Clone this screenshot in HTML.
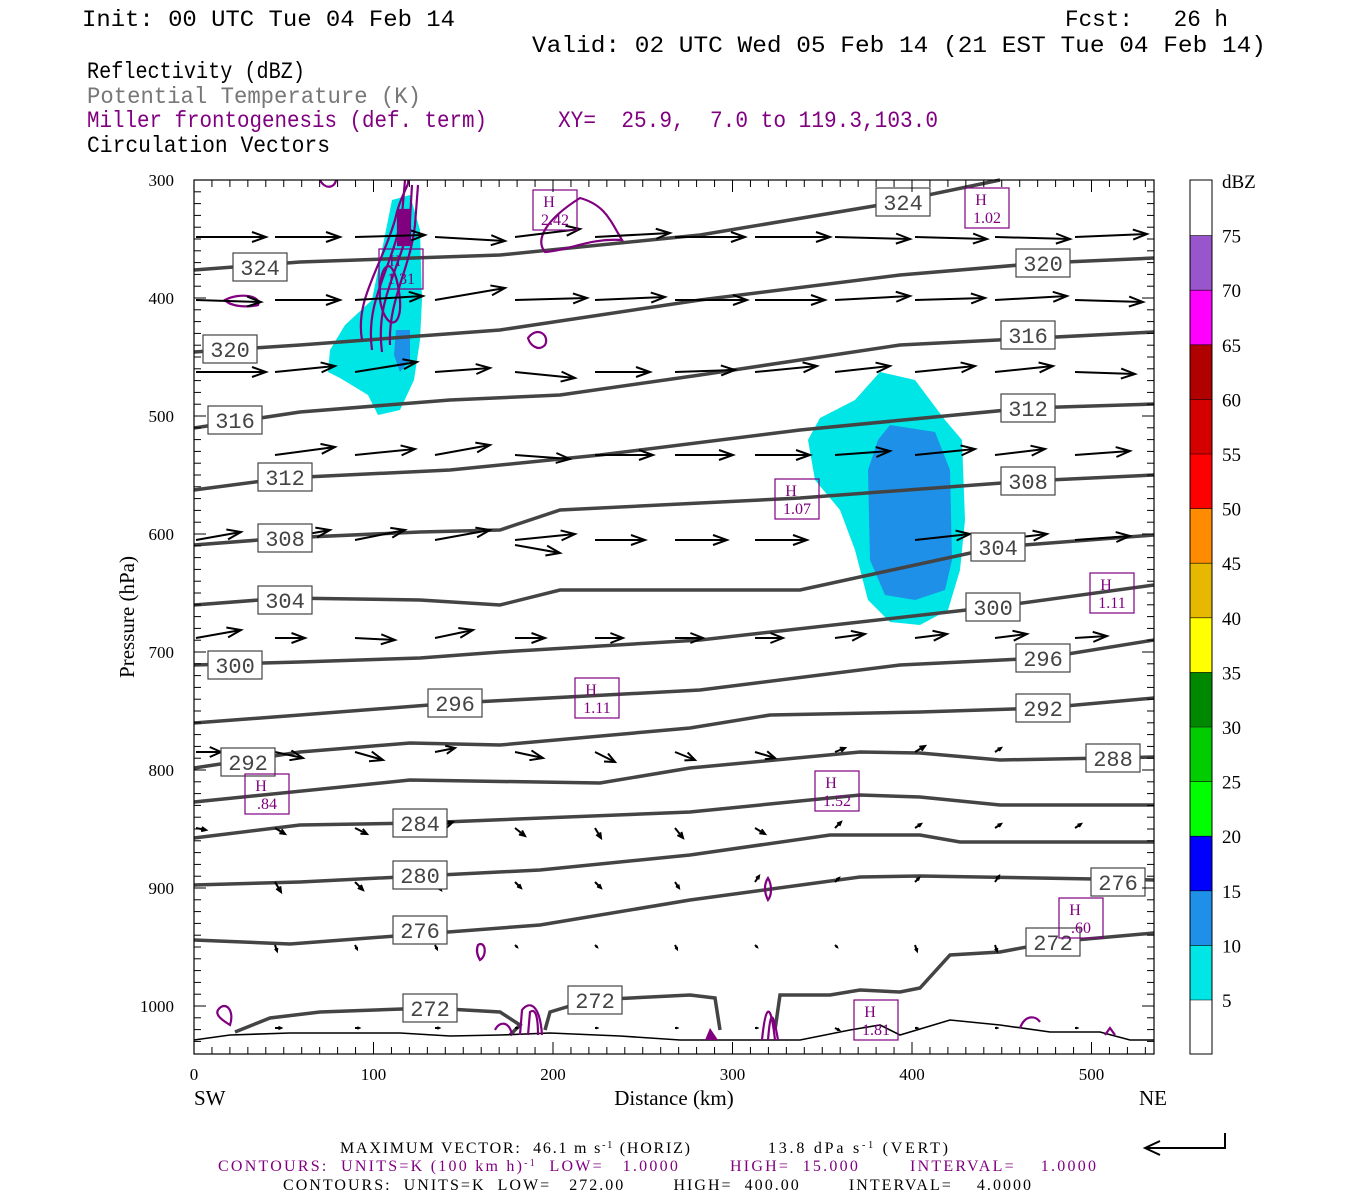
<!DOCTYPE html>
<html><head><meta charset="utf-8"><style>
html,body{margin:0;padding:0;background:#fff;}
svg{display:block;}
.mono{font-family:"Liberation Mono",monospace;}
.serif{font-family:"Liberation Serif",serif;}
</style></head><body>
<svg id="s" width="1350" height="1200" xmlns="http://www.w3.org/2000/svg"></svg>
<script>
const S=document.getElementById('s');let h='';
const P=s=>s.replace(/ /g,'\u00a0');
const X=d=>194+d*1.795, Y=p=>180+(p-300)*1.18;
const T=(x,y,w,s,f)=>`<text x="${x}" y="${y}" textLength="${w}" lengthAdjust="spacingAndGlyphs"${f?` fill="${f}"`:''}>${P(s)}</text>`;
h+=`<g class="mono" font-size="23">
${T(82,26,373,'Init: 00 UTC Tue 04 Feb 14')}
${T(1065,26,163,'Fcst:   26 h')}
${T(532,52,734,'Valid: 02 UTC Wed 05 Feb 14 (21 EST Tue 04 Feb 14)')}
${T(87,78,218,'Reflectivity (dBZ)')}
${T(87,103,334,'Potential Temperature (K)','#777')}
${T(87,127,400,'Miller frontogenesis (def. term)','#800080')}
${T(558,127,380,'XY=  25.9,  7.0 to 119.3,103.0','#800080')}
${T(87,152,243,'Circulation Vectors')}</g>`;
h+=`<path d="M392,200 L410,195 L420,230 L422,300 L420,340 L414,380 L400,410 L378,415 L368,395 L340,378 L328,372 L330,350 L345,325 L372,300 L382,250 Z" fill="#00e5e5"/>
<path d="M396,330 L410,330 L410,360 L400,372 L394,355 Z" fill="#1e90e8"/>
<path d="M880,372 L915,380 L945,420 L962,440 L965,520 L960,570 L948,610 L920,625 L890,622 L868,600 L855,550 L840,510 L815,480 L808,440 L820,418 L855,400 Z" fill="#00e5e5"/>
<path d="M890,425 L935,432 L950,470 L952,560 L945,590 L915,600 L885,595 L870,560 L868,470 L878,440 Z" fill="#1e90e8"/>`;
const L=[
[[194,270],[300,262],[500,255],[700,235],[880,205],[1000,180]],
[[194,352],[300,345],[500,330],[700,300],[900,275],[1043,263],[1154,258]],
[[194,428],[300,412],[450,400],[560,395],[700,375],[900,345],[1154,332]],
[[194,490],[285,478],[450,470],[600,455],[800,430],[1028,408],[1154,404]],
[[194,545],[285,538],[420,532],[500,530],[560,510],[800,498],[1028,481],[1154,475]],
[[194,605],[285,598],[420,600],[500,605],[560,590],[800,590],[998,547],[1154,535]],
[[194,665],[300,662],[420,658],[500,652],[700,640],[993,607],[1154,585]],
[[194,723],[300,715],[455,703],[700,690],[900,665],[1043,658],[1154,640]],
[[194,768],[300,752],[410,743],[500,745],[690,728],[770,715],[920,712],[1043,708],[1154,698]],
[[194,802],[410,780],[600,783],[690,768],[860,752],[920,753],[1000,760],[1154,757]],
[[194,838],[300,825],[420,823],[690,812],[860,795],[920,797],[1000,805],[1154,805]],
[[194,885],[300,882],[540,870],[690,855],[830,835],[920,835],[960,842],[1154,842]],
[[194,940],[290,944],[540,925],[690,900],[860,877],[920,876],[1154,880]],
[[235,1032],[270,1018],[320,1012],[430,1008],[500,1012],[520,1025],[510,1035]],
[[545,1030],[550,1012],[590,1000],[690,995],[715,998],[720,1030]],
[[775,1030],[780,995],[830,995],[860,990],[900,992],[920,988],[950,955],[1000,952],[1053,942],[1154,933]]];
L.forEach(l=>{h+=`<polyline points="${l.map(p=>p.join(',')).join(' ')}" fill="none" stroke="#444" stroke-width="3.5"/>`});
h+=`<polyline points="194,1040 230,1035 290,1033 340,1033 400,1033 450,1036 500,1035 550,1033 620,1036 680,1040 750,1040 800,1040 850,1030 880,1025 900,1035 950,1020 1000,1025 1050,1032 1100,1032 1130,1040 1154,1040" fill="none" stroke="#000" stroke-width="1.6"/>`;
h+=`<g fill="none" stroke="#800080" stroke-width="2.2">
<path d="M362,340 C355,300 380,270 395,220 C400,195 410,185 408,180 M372,350 C365,300 392,270 402,215 L405,180 M382,352 C375,300 400,270 410,220 L412,185 M390,345 C388,300 410,270 415,225 L418,185"/>
<path d="M380,300 C378,260 395,250 400,300 C402,330 385,330 380,300Z"/>
<path d="M398,210 L410,210 L410,245 L398,245Z" fill="#800080"/>
<path d="M580,198 C605,205 610,220 622,240 C590,238 570,250 545,252 C535,240 545,220 580,198Z"/>
<path d="M225,300 C240,292 262,296 258,305 C245,308 230,306 225,300Z"/>
<path d="M528,338 C538,325 550,336 545,345 C538,352 530,345 528,338Z"/>
<path d="M320,180 C325,190 335,188 336,180"/>
<path d="M218,1010 C225,1000 235,1010 230,1025 C222,1020 215,1015 218,1010Z"/>
<path d="M478,945 C485,940 488,955 480,960 C477,955 476,950 478,945Z"/>
<path d="M768,878 C772,885 772,895 768,900 C764,892 764,884 768,878Z"/>
<path d="M495,1030 C500,1020 510,1022 512,1035 M520,1035 L522,1010 C530,1000 540,1005 542,1035 M528,1035 L530,1012 C535,1008 538,1015 538,1035"/>
<path d="M762,1040 C765,1010 770,995 775,1040 M768,1040 C770,1015 772,1005 778,1040"/>
<path d="M1020,1028 C1025,1015 1035,1015 1040,1022"/>
<path d="M1105,1035 L1110,1028 L1115,1035"/>
</g><path d="M705,1040 L710,1028 L718,1040Z" fill="#800080"/>`;
function arr(x,y,dx,dy){const len=Math.hypot(dx,dy);if(len<1)return '';const ux=dx/len,uy=dy/len,hl=Math.min(14,len*0.45),hw=Math.min(5,len*0.2);
const x2=x+dx,y2=y+dy;const bx=x2-ux*hl,by=y2-uy*hl;
return `<line x1="${x}" y1="${y}" x2="${x2}" y2="${y2}" stroke="#000" stroke-width="2"/><polyline points="${bx-uy*hw},${by+ux*hw} ${x2},${y2} ${bx+uy*hw},${by-ux*hw}" fill="none" stroke="#000" stroke-width="2"/>`;}
const xs=[196,275,355,435,515,595,675,755,835,915,995,1075];
const rows=[
[237,[[70,0],[65,0],[70,-2],[70,4],[65,-8],[75,-4],[70,0],[75,0],[75,2],[72,2],[75,2],[72,-3]]],
[300,[[65,2],[65,0],[68,-4],[70,-12],[72,-2],[70,-3],[72,0],[70,0],[75,-4],[70,-2],[72,-4],[68,2]]],
[372,[[70,0],[60,-6],[62,-10],[55,-4],[60,6],[55,0],[60,-2],[62,-6],[55,-6],[60,-6],[58,-6],[60,2]]],
[455,[[0,0],[60,-8],[60,-6],[55,-10],[55,4],[58,0],[58,0],[55,0],[55,-4],[60,-6],[50,-6],[55,-4]]],
[540,[[45,-8],[55,-10],[50,-10],[55,-10],[60,-6],[50,0],[52,0],[52,0],[0,0],[55,-6],[52,-6],[55,-4]]],
[545,[[0,0],[0,0],[0,0],[0,0],[45,8],[0,0],[0,0],[0,0],[0,0],[0,0],[0,0],[0,0]]],
[638,[[45,-8],[30,0],[40,2],[38,-8],[30,0],[28,0],[28,0],[28,0],[30,-4],[32,-4],[32,-4],[32,-2]]],
[752,[[25,0],[28,6],[28,8],[20,-4],[28,6],[20,10],[20,8],[20,6],[10,-4],[10,-6],[6,-4],[0,0]]],
[828,[[10,2],[10,6],[12,6],[18,-6],[10,8],[6,10],[8,10],[10,6],[6,-6],[6,-4],[6,-4],[6,-4]]],
[882,[[0,0],[6,10],[8,8],[6,8],[6,6],[6,6],[4,6],[4,-6],[4,-4],[4,-4],[4,-6],[0,0]]],
[945,[[0,0],[2,6],[2,4],[2,4],[2,2],[2,2],[2,4],[2,2],[2,2],[2,6],[2,6],[2,2]]],
[1028,[[0,0],[6,0],[4,0],[4,0],[2,0],[2,0],[2,0],[2,0],[4,2],[2,0],[2,0],[2,0]]]];
rows.forEach(r=>r[1].forEach((v,i)=>{h+=arr(xs[i],r[0],v[0],v[1])}));
const lab=[[260,267,324],[903,202,324],[230,349,320],[1043,263,320],[235,420,316],[1028,335,316],[285,477,312],[1028,408,312],[285,538,308],[1028,481,308],[285,600,304],[998,547,304],[235,665,300],[993,607,300],[455,703,296],[1043,658,296],[248,762,292],[1043,708,292],[1113,758,288],[420,823,284],[420,875,280],[420,930,276],[1118,882,276],[430,1008,272],[595,1000,272],[1053,942,272]];
lab.forEach(([x,y,t])=>{h+=`<rect x="${x-27}" y="${y-14}" width="54" height="28" fill="#fff" stroke="#444" stroke-width="1.2"/><text x="${x}" y="${y+8}" text-anchor="middle" class="mono" font-size="22" fill="#444">${t}</text>`});
const HB=[[555,210,'2.42'],[987,208,'1.02'],[401,269,'1.31'],[797,499,'1.07'],[1112,593,'1.11'],[597,698,'1.11'],[267,794,'.84'],[837,791,'1.52'],[1081,918,'.60'],[876,1020,'1.81']];
HB.forEach(([x,y,t])=>{h+=`<rect x="${x-22}" y="${y-20}" width="44" height="40" fill="none" stroke="#800080" stroke-width="1.2"/><text x="${x-6}" y="${y-3}" text-anchor="middle" class="serif" font-size="16" fill="#800080">H</text><text x="${x}" y="${y+15}" text-anchor="middle" class="serif" font-size="16" fill="#800080">${t}</text>`});
h+=`<rect x="194" y="180" width="960" height="874" fill="none" stroke="#000" stroke-width="1.2"/>`;
for(let p=300;p<=1030;p+=10){const y=Y(p),m=p%100==0;const l=m?12:7;h+=`<line x1="194" y1="${y}" x2="${194+l}" y2="${y}" stroke="#000"/><line x1="1154" y1="${y}" x2="${1154-l}" y2="${y}" stroke="#000"/>`;if(m)h+=`<text x="174" y="${y+6}" text-anchor="end" class="serif" font-size="17">${p}</text>`;}
for(let d=0;d<=530;d+=10){const x=X(d),m=d%100==0;const l=m?12:7;h+=`<line x1="${x}" y1="1054" x2="${x}" y2="${1054-l}" stroke="#000"/><line x1="${x}" y1="180" x2="${x}" y2="${180+l}" stroke="#000"/>`;if(m)h+=`<text x="${x}" y="1080" text-anchor="middle" class="serif" font-size="17">${d}</text>`;}
h+=`<g class="serif" font-size="21"><text x="194" y="1105">SW</text><text x="1139" y="1105">NE</text>
<text x="674" y="1105" text-anchor="middle">Distance (km)</text>
<text transform="translate(134,617) rotate(-90)" text-anchor="middle">Pressure (hPa)</text></g>`;
const cols=['#00e5e5','#1e90e8','#0000ff','#00ff00','#00cc00','#008800','#ffff00','#e6b800','#ff8c00','#ff0000','#d40000','#b00000','#ff00ff','#9955cc'];
const st=54.6;
cols.forEach((c,i)=>{const y=1000-st*(i+1);h+=`<rect x="1190" y="${y}" width="22" height="${st}" fill="${c}"/>`});
h+=`<rect x="1190" y="180" width="22" height="874" fill="none" stroke="#000"/>`;
for(let i=0;i<=14;i++){const y=1000-st*i;h+=`<line x1="1190" y1="${y}" x2="1212" y2="${y}" stroke="#000" stroke-width="0.6"/><text x="1222" y="${y+7}" class="serif" font-size="19">${5+5*i}</text>`;}
h+=`<text x="1222" y="188" class="serif" font-size="19">dBZ</text>`;
h+=`<g class="serif" font-size="16">
<text x="340" y="1153" textLength="350" lengthAdjust="spacing">${P('MAXIMUM VECTOR:  46.1 m s')}<tspan dy="-5" font-size="10">-1</tspan><tspan dy="5">${P(' (HORIZ)')}</tspan></text>
<text x="768" y="1153" textLength="180" lengthAdjust="spacing">${P('13.8 dPa s')}<tspan dy="-5" font-size="10">-1</tspan><tspan dy="5">${P(' (VERT)')}</tspan></text>
<text x="218" y="1171" fill="#800080" textLength="878" lengthAdjust="spacing">${P('CONTOURS:  UNITS=K (100 km h)')}<tspan dy="-5" font-size="10">-1</tspan><tspan dy="5">${P('  LOW=   1.0000        HIGH=  15.000        INTERVAL=    1.0000')}</tspan></text>
<text x="283" y="1190" textLength="748" lengthAdjust="spacing">${P('CONTOURS:  UNITS=K  LOW=   272.00        HIGH=  400.00        INTERVAL=    4.0000')}</text></g>`;
h+=`<polyline points="1225,1133 1225,1148 1145,1148" fill="none" stroke="#000" stroke-width="2"/><polyline points="1160,1141 1145,1148 1160,1155" fill="none" stroke="#000" stroke-width="2"/>`;
S.innerHTML=h;
</script>
</body></html>
